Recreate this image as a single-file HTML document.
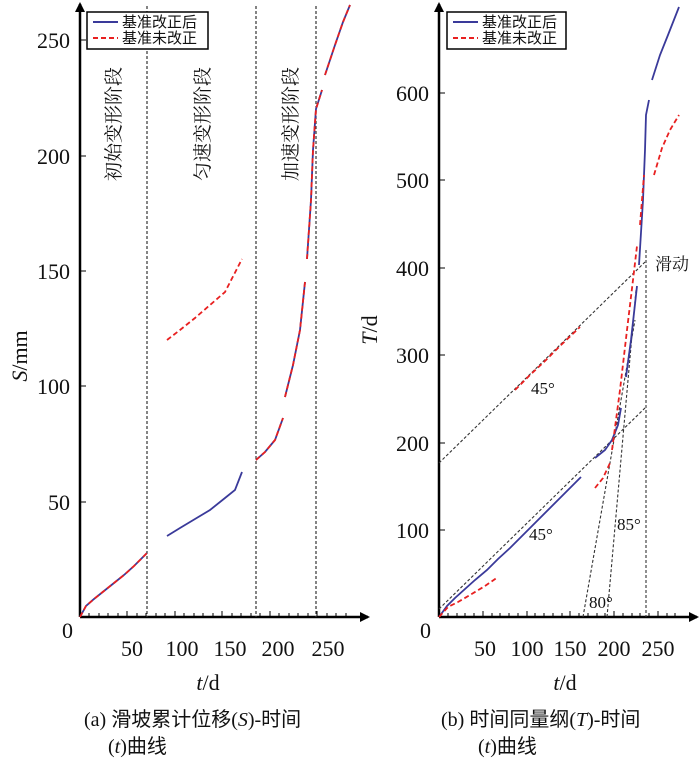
<!DOCTYPE html>
<html><head><meta charset="utf-8"><style>
body{margin:0;background:#fff}
svg{display:block}
text{font-family:"Liberation Serif","Noto Serif CJK SC","Noto Sans CJK SC",serif;fill:#111}
.t{font-size:22px}
.c{font-family:"Liberation Serif","Noto Sans CJK SC",sans-serif;font-size:20px}
.lg{font-family:"Liberation Serif","Noto Sans CJK SC",sans-serif;font-size:15px}
</style></head><body>
<svg width="700" height="761" viewBox="0 0 700 761" xmlns="http://www.w3.org/2000/svg">
<defs>
<marker id="ar" markerWidth="10" markerHeight="10" refX="8" refY="5" orient="auto" markerUnits="userSpaceOnUse">
<path d="M0,0 L10,5 L0,10 Z" fill="#000"/></marker>
</defs>
<!-- LEFT -->
<g stroke="#000" stroke-width="2.5" fill="none">
<line x1="80" y1="617" x2="80" y2="4" marker-end="url(#ar)"/>
<line x1="80" y1="617" x2="368" y2="617" marker-end="url(#ar)"/>
</g>
<g stroke="#000" stroke-width="1">
<line x1="80" y1="40" x2="86" y2="40"/><line x1="80" y1="156" x2="86" y2="156"/><line x1="80" y1="271" x2="86" y2="271"/><line x1="80" y1="386" x2="86" y2="386"/><line x1="80" y1="502" x2="86" y2="502"/>
<line x1="89" y1="617" x2="89" y2="613"/><line x1="99" y1="617" x2="99" y2="613"/><line x1="108" y1="617" x2="108" y2="613"/><line x1="118" y1="617" x2="118" y2="613"/><line x1="127" y1="617" x2="127" y2="611"/><line x1="137" y1="617" x2="137" y2="613"/><line x1="146" y1="617" x2="146" y2="613"/><line x1="156" y1="617" x2="156" y2="613"/><line x1="165" y1="617" x2="165" y2="613"/><line x1="175" y1="617" x2="175" y2="611"/><line x1="184" y1="617" x2="184" y2="613"/><line x1="194" y1="617" x2="194" y2="613"/><line x1="203" y1="617" x2="203" y2="613"/><line x1="213" y1="617" x2="213" y2="613"/><line x1="222" y1="617" x2="222" y2="611"/><line x1="232" y1="617" x2="232" y2="613"/><line x1="241" y1="617" x2="241" y2="613"/><line x1="251" y1="617" x2="251" y2="613"/><line x1="260" y1="617" x2="260" y2="613"/><line x1="270" y1="617" x2="270" y2="611"/><line x1="279" y1="617" x2="279" y2="613"/><line x1="289" y1="617" x2="289" y2="613"/><line x1="298" y1="617" x2="298" y2="613"/><line x1="308" y1="617" x2="308" y2="613"/><line x1="317" y1="617" x2="317" y2="611"/><line x1="327" y1="617" x2="327" y2="613"/><line x1="336" y1="617" x2="336" y2="613"/><line x1="346" y1="617" x2="346" y2="613"/>
</g>
<g class="t" text-anchor="end">
<text x="70" y="48">250</text><text x="70" y="164">200</text><text x="70" y="279">150</text><text x="70" y="394">100</text><text x="70" y="510">50</text>
</g>
<text class="t" x="62" y="638">0</text>
<g class="t" text-anchor="middle">
<text x="132" y="656">50</text><text x="182" y="656">100</text><text x="230" y="656">150</text><text x="278" y="656">200</text><text x="328" y="656">250</text>
</g>
<text class="t" x="208" y="690" text-anchor="middle"><tspan font-style="italic">t</tspan>/d</text>
<text class="t" transform="translate(27,356) rotate(-90)" text-anchor="middle"><tspan font-style="italic">S</tspan>/mm</text>
<g stroke="#333" stroke-width="1.2" stroke-dasharray="3,2">
<line x1="147" y1="6" x2="147" y2="617"/><line x1="256" y1="6" x2="256" y2="617"/><line x1="316" y1="6" x2="316" y2="617"/>
</g>
<g class="c">
<text transform="translate(120,124) rotate(-90)" text-anchor="middle" style="font-size:19px">初始变形阶段</text>
<text transform="translate(209,124) rotate(-90)" text-anchor="middle" style="font-size:19px">匀速变形阶段</text>
<text transform="translate(297,124) rotate(-90)" text-anchor="middle" style="font-size:19px">加速变形阶段</text>
</g>
<!-- left series -->
<g fill="none" stroke-width="1.8">
<polyline stroke="#3a3a9a" points="80,617 86,606 94,599 104,591 114,583 124,575 134,566 147,553"/>
<polyline stroke="#3a3a9a" points="167,536 180,528 195,519 210,510 225,498 235,490 242,472"/>
<polyline stroke="#3a3a9a" points="256,460 265,452 275,440 283,418"/>
<polyline stroke="#3a3a9a" points="285,397 293,365 300,330 305,282"/>
<polyline stroke="#3a3a9a" points="307,259 311,200 313,150 316,109 322,90"/>
<polyline stroke="#3a3a9a" points="325,75 335,45 343,22 350,5"/>
</g>
<g fill="none" stroke="#e82020" stroke-width="1.8" stroke-dasharray="5,3">
<polyline points="80,617 86,606 94,599 104,591 114,583 124,575 134,566 147,553"/>
<polyline points="167,340 180,330 195,318 210,305 225,292 242,259"/>
<polyline points="256,460 265,452 275,440 283,418"/>
<polyline points="285,397 293,365 300,330 305,282"/>
<polyline points="307,259 311,200 313,150 316,109 322,90"/>
<polyline points="325,75 335,45 343,22 350,5"/>
</g>
<rect x="87" y="12" width="121" height="37" fill="#fff" stroke="#000" stroke-width="1.5"/>
<line x1="93" y1="22" x2="118" y2="22" stroke="#3a3a9a" stroke-width="2"/>
<line x1="93" y1="38" x2="118" y2="38" stroke="#e82020" stroke-width="2" stroke-dasharray="5,3"/>
<text class="lg" x="122" y="27">基准改正后</text>
<text class="lg" x="122" y="43">基准未改正</text>
<text class="c" x="84" y="726">(a) 滑坡累计位移(<tspan font-style="italic">S</tspan>)-时间</text>
<text class="c" x="108" y="753">(<tspan font-style="italic">t</tspan>)曲线</text>

<!-- RIGHT -->
<g stroke="#000" stroke-width="2.5" fill="none">
<line x1="439" y1="617" x2="439" y2="4" marker-end="url(#ar)"/>
<line x1="439" y1="617" x2="697" y2="617" marker-end="url(#ar)"/>
</g>
<g stroke="#000" stroke-width="1">
<line x1="439" y1="93" x2="445" y2="93"/><line x1="439" y1="180" x2="445" y2="180"/><line x1="439" y1="268" x2="445" y2="268"/><line x1="439" y1="355" x2="445" y2="355"/><line x1="439" y1="443" x2="445" y2="443"/><line x1="439" y1="530" x2="445" y2="530"/>
<line x1="448" y1="617" x2="448" y2="613"/><line x1="457" y1="617" x2="457" y2="613"/><line x1="465" y1="617" x2="465" y2="613"/><line x1="474" y1="617" x2="474" y2="613"/><line x1="483" y1="617" x2="483" y2="611"/><line x1="492" y1="617" x2="492" y2="613"/><line x1="500" y1="617" x2="500" y2="613"/><line x1="509" y1="617" x2="509" y2="613"/><line x1="518" y1="617" x2="518" y2="613"/><line x1="527" y1="617" x2="527" y2="611"/><line x1="535" y1="617" x2="535" y2="613"/><line x1="544" y1="617" x2="544" y2="613"/><line x1="553" y1="617" x2="553" y2="613"/><line x1="562" y1="617" x2="562" y2="613"/><line x1="570" y1="617" x2="570" y2="611"/><line x1="579" y1="617" x2="579" y2="613"/><line x1="588" y1="617" x2="588" y2="613"/><line x1="597" y1="617" x2="597" y2="613"/><line x1="605" y1="617" x2="605" y2="613"/><line x1="614" y1="617" x2="614" y2="611"/><line x1="623" y1="617" x2="623" y2="613"/><line x1="632" y1="617" x2="632" y2="613"/><line x1="640" y1="617" x2="640" y2="613"/><line x1="649" y1="617" x2="649" y2="613"/><line x1="658" y1="617" x2="658" y2="611"/><line x1="667" y1="617" x2="667" y2="613"/><line x1="675" y1="617" x2="675" y2="613"/>
</g>
<g class="t" text-anchor="end">
<text x="429" y="101">600</text><text x="429" y="188">500</text><text x="429" y="276">400</text><text x="429" y="363">300</text><text x="429" y="451">200</text><text x="429" y="538">100</text>
</g>
<text class="t" x="420" y="638">0</text>
<g class="t" text-anchor="middle">
<text x="485" y="656">50</text><text x="527" y="656">100</text><text x="570" y="656">150</text><text x="614" y="656">200</text><text x="658" y="656">250</text>
</g>
<text class="t" x="565" y="690" text-anchor="middle"><tspan font-style="italic">t</tspan>/d</text>
<text class="t" transform="translate(377,330) rotate(-90)" text-anchor="middle"><tspan font-style="italic">T</tspan>/d</text>
<g stroke="#333" stroke-width="1.1" stroke-dasharray="3,2" fill="none">
<line x1="439" y1="463" x2="645" y2="262"/>
<line x1="439" y1="609" x2="646" y2="407"/>
<line x1="646" y1="250" x2="646" y2="617"/>
<line x1="583" y1="617" x2="635" y2="320"/>
<line x1="607" y1="617" x2="636" y2="290"/>
</g>
<!-- right series -->
<g fill="none" stroke="#3a3a9a" stroke-width="1.8">
<polyline points="439,617 447,606 455,598 465,589 475,580 487,570 498,559 510,548 525,533 540,518 555,503 570,488 581,477"/>
<polyline points="595,458 605,450 612,440 618,425 621,408"/>
<polyline points="626,377 631,340 637,286"/>
<polyline points="639,265 643,200 645,150 646,115 649,100"/>
<polyline points="652,80 660,55 668,35 679,7"/>
</g>
<g fill="none" stroke="#e82020" stroke-width="1.8" stroke-dasharray="5,3">
<polyline points="439,617 448,607 458,602 470,595 485,586 498,577"/>
<polyline points="515,390 530,375 545,361 560,346 580,327"/>
<polyline points="595,488 603,478 610,463"/>
<polyline points="612,450 620,390 627,330 633,280 637,246"/>
<polyline points="640,225 644,175"/>
<polyline points="654,175 662,148 670,130 679,115"/>
</g>
<rect x="447" y="12" width="119" height="37" fill="#fff" stroke="#000" stroke-width="1.5"/>
<line x1="453" y1="22" x2="478" y2="22" stroke="#3a3a9a" stroke-width="2"/>
<line x1="453" y1="38" x2="478" y2="38" stroke="#e82020" stroke-width="2" stroke-dasharray="5,3"/>
<text class="lg" x="482" y="27">基准改正后</text>
<text class="lg" x="482" y="43">基准未改正</text>
<g class="c">
<text x="531" y="394" style="font-size:17px">45°</text>
<text x="529" y="540" style="font-size:17px">45°</text>
<text x="617" y="530" style="font-size:17px">85°</text>
<text x="589" y="608" style="font-size:17px">80°</text>
<text x="655" y="270" style="font-size:17px">滑动</text>
</g>
<text class="c" x="441" y="726">(b) 时间同量纲(<tspan font-style="italic">T</tspan>)-时间</text>
<text class="c" x="478" y="753">(<tspan font-style="italic">t</tspan>)曲线</text>
</svg>
</body></html>
